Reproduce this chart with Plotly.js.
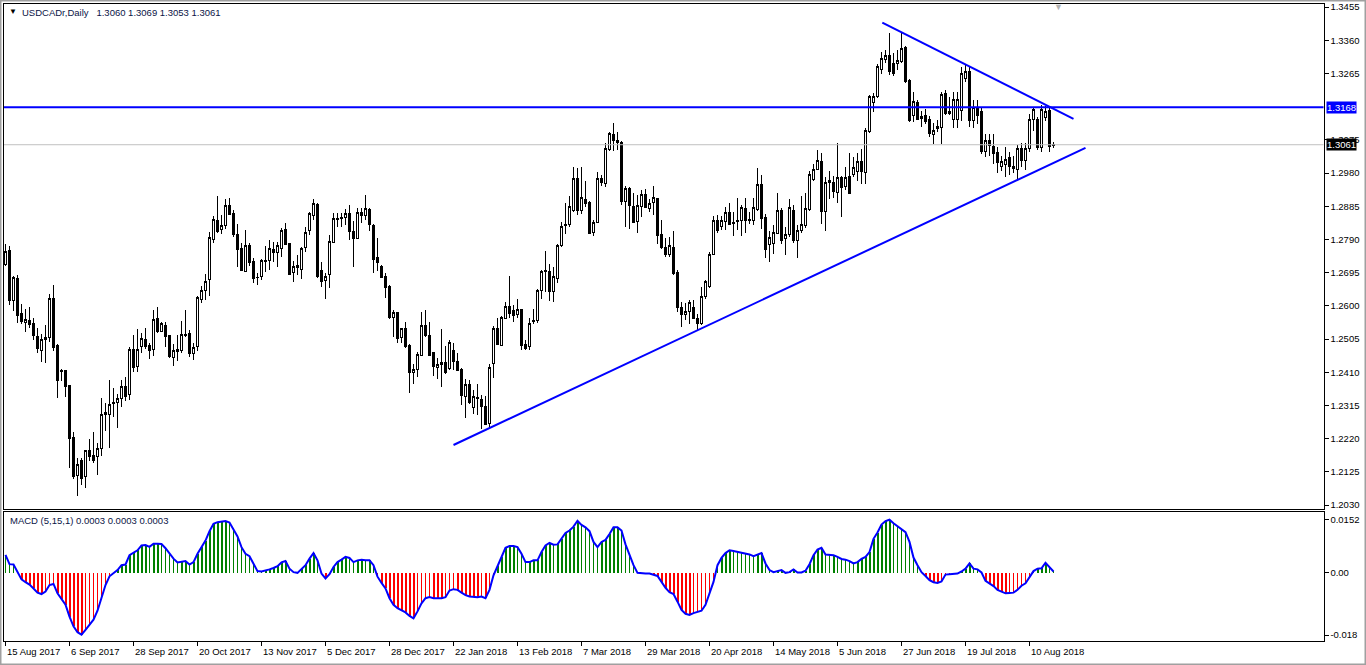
<!DOCTYPE html>
<html><head><meta charset="utf-8">
<script src="https://cdn.plot.ly/plotly-3.0.1.min.js"></script>
<style>html,body{margin:0;padding:0;background:#fff;overflow:hidden}#chart{width:1366px;height:665px}
.barlayer path,.boxlayer path{shape-rendering:crispEdges}</style>
</head><body><div id="chart"></div>
<script>
// ---- data (USDCADr, Daily) ----
const opens = [1.2717,1.2757,1.2616,1.2677,1.2577,1.2553,1.2559,1.2550,1.2512,1.2472,1.2504,1.2509,1.2620,1.2486,1.2416,1.2414,1.2373,1.2224,1.2114,1.2159,1.2111,1.2185,1.2173,1.2168,1.2192,1.2290,1.2290,1.2324,1.2324,1.2335,1.2369,1.2347,1.2476,1.2426,1.2483,1.2505,1.2486,1.2474,1.2564,1.2528,1.2545,1.2514,1.2453,1.2470,1.2472,1.2519,1.2521,1.2464,1.2483,1.2618,1.2645,1.2674,1.2790,1.2843,1.2819,1.2831,1.2886,1.2863,1.2805,1.2763,1.2699,1.2774,1.2728,1.2681,1.2683,1.2727,1.2729,1.2760,1.2753,1.2764,1.2819,1.2779,1.2696,1.2710,1.2704,1.2766,1.2817,1.2858,1.2891,1.2700,1.2672,1.2690,1.2782,1.2850,1.2850,1.2853,1.2865,1.2814,1.2793,1.2867,1.2858,1.2877,1.2831,1.2739,1.2714,1.2685,1.2655,1.2567,1.2581,1.2509,1.2535,1.2488,1.2409,1.2418,1.2459,1.2545,1.2516,1.2467,1.2424,1.2432,1.2438,1.2421,1.2473,1.2442,1.2419,1.2340,1.2376,1.2308,1.2339,1.2333,1.2313,1.2264,1.2435,1.2534,1.2488,1.2564,1.2599,1.2588,1.2574,1.2590,1.2490,1.2485,1.2554,1.2557,1.2645,1.2697,1.2699,1.2640,1.2678,1.2774,1.2834,1.2834,1.2872,1.2963,1.2874,1.2904,1.2896,1.2810,1.2839,1.2963,1.2950,1.3047,1.3091,1.3074,1.3067,1.2898,1.2936,1.2885,1.2842,1.2883,1.2919,1.2879,1.2895,1.2907,1.2804,1.2766,1.2747,1.2766,1.2695,1.2595,1.2576,1.2583,1.2594,1.2564,1.2549,1.2628,1.2655,1.2748,1.2845,1.2828,1.2842,1.2867,1.2838,1.2842,1.2845,1.2879,1.2843,1.2845,1.2876,1.2948,1.2853,1.2776,1.2778,1.2807,1.2872,1.2793,1.2805,1.2874,1.2786,1.2817,1.2829,1.2876,1.2962,1.2990,1.3014,1.2869,1.2953,1.2952,1.2924,1.2966,1.2941,1.2971,1.2976,1.2984,1.3014,1.2982,1.3098,1.3181,1.3198,1.3277,1.3305,1.3315,1.3294,1.3292,1.3299,1.3340,1.3246,1.3146,1.3182,1.3141,1.3144,1.3132,1.3089,1.3106,1.3111,1.3208,1.3155,1.3133,1.3133,1.3158,1.3250,1.3270,1.3130,1.3168,1.3155,1.3043,1.3074,1.3057,1.3038,1.3000,1.3005,1.3025,1.2993,1.2991,1.3050,1.3017,1.3050,1.3132,1.3132,1.3053,1.3139,1.3158,1.3060];
const highs = [1.2777,1.2771,1.2685,1.2688,1.2605,1.2591,1.2596,1.2566,1.2536,1.2519,1.2545,1.2634,1.2660,1.2491,1.2419,1.2416,1.2375,1.2240,1.2164,1.2165,1.2187,1.2218,1.2240,1.2207,1.2337,1.2321,1.2388,1.2364,1.2348,1.2388,1.2397,1.2483,1.2516,1.2533,1.2521,1.2536,1.2495,1.2588,1.2596,1.2555,1.2555,1.2518,1.2490,1.2516,1.2556,1.2588,1.2531,1.2493,1.2628,1.2657,1.2690,1.2812,1.2857,1.2914,1.2860,1.2905,1.2908,1.2874,1.2833,1.2779,1.2817,1.2779,1.2736,1.2693,1.2733,1.2771,1.2788,1.2782,1.2784,1.2822,1.2836,1.2781,1.2729,1.2745,1.2769,1.2826,1.2869,1.2905,1.2895,1.2726,1.2693,1.2803,1.2865,1.2867,1.2865,1.2876,1.2888,1.2843,1.2879,1.2879,1.2917,1.2879,1.2834,1.2793,1.2717,1.2693,1.2660,1.2588,1.2583,1.2537,1.2553,1.2490,1.2435,1.2469,1.2583,1.2588,1.2555,1.2469,1.2450,1.2534,1.2485,1.2502,1.2494,1.2464,1.2423,1.2390,1.2388,1.2359,1.2376,1.2345,1.2342,1.2433,1.2542,1.2566,1.2571,1.2612,1.2685,1.2602,1.2621,1.2592,1.2502,1.2564,1.2590,1.2648,1.2704,1.2756,1.2721,1.2712,1.2777,1.2840,1.2893,1.2914,1.2998,1.2993,1.2996,1.2958,1.2901,1.2845,1.2984,1.2974,1.3065,1.3098,1.3122,1.3098,1.3072,1.2942,1.2939,1.2922,1.2917,1.2931,1.2933,1.2907,1.2942,1.2909,1.2845,1.2793,1.2797,1.2815,1.2702,1.2612,1.2609,1.2616,1.2616,1.2576,1.2654,1.2675,1.2755,1.2857,1.2860,1.2857,1.2883,1.2895,1.2869,1.2910,1.2888,1.2910,1.2869,1.2910,1.2993,1.2974,1.2862,1.2815,1.2831,1.2922,1.2881,1.2826,1.2907,1.2888,1.2831,1.2914,1.2922,1.2985,1.3007,1.3046,1.3038,1.2969,1.2986,1.2971,1.3065,1.2971,1.2998,1.3038,1.3026,1.3038,1.3050,1.3108,1.3203,1.3210,1.3292,1.3327,1.3332,1.3382,1.3322,1.3332,1.3380,1.3343,1.3248,1.3213,1.3189,1.3158,1.3162,1.3144,1.3122,1.3132,1.3213,1.3217,1.3198,1.3213,1.3213,1.3284,1.3290,1.3284,1.3190,1.3190,1.3165,1.3093,1.3093,1.3093,1.3055,1.3030,1.3055,1.3040,1.3030,1.3060,1.3065,1.3065,1.3150,1.3165,1.3140,1.3175,1.3172,1.3165,1.3069];
const lows = [1.2714,1.2602,1.2585,1.2550,1.2548,1.2524,1.2538,1.2502,1.2464,1.2440,1.2437,1.2497,1.2472,1.2337,1.2385,1.2340,1.2135,1.2106,1.2057,1.2087,1.2080,1.2156,1.2149,1.2116,1.2170,1.2242,1.2194,1.2283,1.2251,1.2310,1.2329,1.2331,1.2412,1.2412,1.2464,1.2478,1.2447,1.2456,1.2523,1.2526,1.2481,1.2450,1.2429,1.2443,1.2466,1.2512,1.2454,1.2445,1.2472,1.2609,1.2618,1.2629,1.2779,1.2809,1.2807,1.2819,1.2860,1.2798,1.2712,1.2701,1.2698,1.2715,1.2664,1.2660,1.2674,1.2698,1.2704,1.2726,1.2710,1.2741,1.2773,1.2689,1.2669,1.2688,1.2676,1.2755,1.2803,1.2847,1.2680,1.2653,1.2621,1.2650,1.2781,1.2826,1.2826,1.2831,1.2788,1.2710,1.2790,1.2838,1.2847,1.2815,1.2695,1.2701,1.2679,1.2623,1.2562,1.2512,1.2494,1.2495,1.2480,1.2351,1.2376,1.2397,1.2459,1.2512,1.2459,1.2400,1.2392,1.2369,1.2404,1.2416,1.2416,1.2413,1.2316,1.2278,1.2319,1.2292,1.2287,1.2249,1.2259,1.2249,1.2395,1.2488,1.2486,1.2561,1.2564,1.2555,1.2564,1.2475,1.2475,1.2475,1.2549,1.2551,1.2621,1.2640,1.2614,1.2611,1.2664,1.2769,1.2805,1.2826,1.2869,1.2860,1.2864,1.2883,1.2805,1.2800,1.2836,1.2942,1.2941,1.3043,1.3044,1.3047,1.2888,1.2826,1.2821,1.2836,1.2809,1.2855,1.2879,1.2869,1.2860,1.2778,1.2764,1.2740,1.2740,1.2688,1.2583,1.2540,1.2559,1.2549,1.2561,1.2530,1.2545,1.2621,1.2650,1.2745,1.2809,1.2818,1.2817,1.2831,1.2800,1.2817,1.2800,1.2809,1.2834,1.2831,1.2872,1.2821,1.2738,1.2726,1.2747,1.2805,1.2778,1.2745,1.2797,1.2780,1.2738,1.2809,1.2824,1.2872,1.2958,1.2988,1.2834,1.2815,1.2907,1.2910,1.2895,1.2855,1.2931,1.2919,1.2969,1.2958,1.2950,1.2948,1.3095,1.3155,1.3196,1.3263,1.3294,1.3260,1.3257,1.3275,1.3294,1.3238,1.3127,1.3127,1.3131,1.3111,1.3120,1.3084,1.3063,1.3098,1.3063,1.3146,1.3146,1.3108,1.3108,1.3130,1.3240,1.3111,1.3110,1.3120,1.3035,1.3025,1.3030,1.3007,1.2980,1.2985,1.2970,1.2975,1.2980,1.2960,1.2998,1.2990,1.3040,1.3100,1.3045,1.3040,1.3130,1.3040,1.3053];
const closes = [1.2755,1.2614,1.2681,1.2572,1.2555,1.2562,1.2548,1.2514,1.2478,1.2505,1.2510,1.2620,1.2480,1.2386,1.2412,1.2369,1.2221,1.2111,1.2147,1.2106,1.2186,1.2168,1.2159,1.2192,1.2290,1.2294,1.2319,1.2320,1.2335,1.2369,1.2340,1.2474,1.2424,1.2476,1.2507,1.2483,1.2472,1.2562,1.2526,1.2550,1.2512,1.2455,1.2471,1.2474,1.2519,1.2515,1.2464,1.2481,1.2624,1.2645,1.2671,1.2796,1.2846,1.2812,1.2831,1.2886,1.2862,1.2805,1.2760,1.2701,1.2774,1.2724,1.2679,1.2680,1.2731,1.2731,1.2763,1.2753,1.2774,1.2817,1.2776,1.2691,1.2714,1.2716,1.2764,1.2810,1.2863,1.2893,1.2683,1.2671,1.2683,1.2785,1.2850,1.2847,1.2854,1.2863,1.2812,1.2793,1.2867,1.2858,1.2879,1.2833,1.2734,1.2723,1.2681,1.2652,1.2566,1.2581,1.2507,1.2534,1.2483,1.2409,1.2419,1.2462,1.2545,1.2515,1.2459,1.2426,1.2433,1.2438,1.2410,1.2495,1.2440,1.2416,1.2343,1.2376,1.2323,1.2340,1.2335,1.2311,1.2261,1.2424,1.2535,1.2490,1.2566,1.2597,1.2578,1.2572,1.2590,1.2487,1.2478,1.2549,1.2559,1.2645,1.2699,1.2702,1.2640,1.2683,1.2774,1.2828,1.2831,1.2883,1.2963,1.2872,1.2910,1.2893,1.2807,1.2839,1.2963,1.2953,1.3050,1.3093,1.3072,1.3067,1.2898,1.2936,1.2888,1.2838,1.2888,1.2919,1.2881,1.2893,1.2910,1.2800,1.2767,1.2747,1.2772,1.2693,1.2595,1.2576,1.2585,1.2610,1.2564,1.2549,1.2626,1.2671,1.2748,1.2845,1.2817,1.2845,1.2867,1.2833,1.2836,1.2845,1.2881,1.2843,1.2847,1.2880,1.2948,1.2850,1.2761,1.2796,1.2810,1.2874,1.2786,1.2805,1.2881,1.2786,1.2817,1.2834,1.2879,1.2977,1.2990,1.3017,1.2869,1.2953,1.2960,1.2926,1.2966,1.2939,1.2967,1.2922,1.2996,1.3012,1.2984,1.3103,1.3198,1.3200,1.3284,1.3308,1.3315,1.3270,1.3265,1.3303,1.3337,1.3243,1.3130,1.3184,1.3133,1.3136,1.3127,1.3094,1.3103,1.3113,1.3206,1.3151,1.3151,1.3189,1.3189,1.3265,1.3270,1.3130,1.3168,1.3146,1.3041,1.3074,1.3060,1.3035,1.3010,1.3012,1.3020,1.2998,1.3000,1.3050,1.3017,1.3050,1.3134,1.3162,1.3053,1.3162,1.3155,1.3057,1.3061];
const macd = [0.0051,0.0024,0.0023,0.0002,-0.0020,-0.0028,-0.0035,-0.0046,-0.0058,-0.0062,-0.0055,-0.0036,-0.0033,-0.0060,-0.0077,-0.0093,-0.0127,-0.0155,-0.0172,-0.0179,-0.0165,-0.0150,-0.0136,-0.0110,-0.0074,-0.0036,-0.0011,-0.0001,0.0007,0.0021,0.0023,0.0050,0.0057,0.0064,0.0078,0.0079,0.0074,0.0083,0.0083,0.0082,0.0070,0.0054,0.0040,0.0029,0.0030,0.0033,0.0023,0.0030,0.0054,0.0073,0.0092,0.0119,0.0140,0.0145,0.0147,0.0148,0.0144,0.0126,0.0104,0.0073,0.0054,0.0047,0.0023,0.0004,0.0003,0.0005,0.0009,0.0013,0.0018,0.0029,0.0033,0.0011,0.0001,-0.0001,0.0009,0.0021,0.0040,0.0056,0.0035,-0.0003,-0.0017,-0.0005,0.0016,0.0030,0.0037,0.0045,0.0042,0.0030,0.0035,0.0037,0.0035,0.0035,0.0021,-0.0012,-0.0030,-0.0046,-0.0074,-0.0093,-0.0103,-0.0109,-0.0115,-0.0125,-0.0132,-0.0112,-0.0089,-0.0074,-0.0071,-0.0074,-0.0074,-0.0074,-0.0071,-0.0052,-0.0048,-0.0050,-0.0058,-0.0065,-0.0069,-0.0071,-0.0071,-0.0069,-0.0074,-0.0050,-0.0008,0.0018,0.0045,0.0071,0.0076,0.0076,0.0073,0.0054,0.0030,0.0030,0.0035,0.0035,0.0059,0.0078,0.0085,0.0080,0.0081,0.0097,0.0114,0.0121,0.0132,0.0149,0.0137,0.0130,0.0119,0.0088,0.0073,0.0088,0.0094,0.0111,0.0130,0.0130,0.0121,0.0081,0.0050,0.0021,-0.0001,-0.0003,-0.0003,-0.0003,-0.0006,-0.0010,-0.0027,-0.0044,-0.0057,-0.0062,-0.0084,-0.0108,-0.0119,-0.0122,-0.0117,-0.0113,-0.0110,-0.0093,-0.0062,-0.0027,0.0021,0.0042,0.0056,0.0064,0.0062,0.0060,0.0058,0.0056,0.0052,0.0047,0.0052,0.0056,0.0026,0.0007,0.0001,0.0003,0.0007,-0.0001,0.0001,0.0009,0.0000,0.0000,0.0005,0.0024,0.0050,0.0066,0.0071,0.0052,0.0050,0.0050,0.0045,0.0039,0.0037,0.0033,0.0026,0.0030,0.0039,0.0045,0.0059,0.0097,0.0115,0.0138,0.0148,0.0152,0.0142,0.0134,0.0126,0.0116,0.0088,0.0043,0.0021,0.0001,-0.0010,-0.0022,-0.0028,-0.0030,-0.0026,-0.0006,-0.0005,-0.0005,-0.0003,0.0003,0.0011,0.0026,0.0011,0.0009,0.0000,-0.0024,-0.0031,-0.0039,-0.0050,-0.0056,-0.0060,-0.0059,-0.0058,-0.0050,-0.0038,-0.0031,-0.0012,0.0004,0.0011,0.0012,0.0028,0.0014,0.0003];
const dateLabels = ["15 Aug 2017","6 Sep 2017","28 Sep 2017","20 Oct 2017","13 Nov 2017","5 Dec 2017","28 Dec 2017","22 Jan 2018","13 Feb 2018","7 Mar 2018","29 Mar 2018","20 Apr 2018","14 May 2018","5 Jun 2018","27 Jun 2018","19 Jul 2018","10 Aug 2018"];
const dateLabelIdx = [0,16,32,48,64,80,96,112,128,144,160,176,192,208,224,240,256];
const priceTicks = [1.3455,1.3360,1.3265,1.3075,1.2980,1.2885,1.2790,1.2695,1.2600,1.2505,1.2410,1.2315,1.2220,1.2125,1.2030];
const macdTicks = [0.0152,0,-0.018];
const macdTickText = ["0.0152","0.00","-0.018"];
const hLevel = 1.3168;
const bidPrice = 1.3061;
const supportIdx = [112,270];
const supportPrice = [1.2202,1.3052];
const resistIdx = [219.2,267];
const resistPrice = [1.3410,1.3135];
const header = "USDCADr,Daily\u00a0\u00a0 1.3060 1.3069 1.3053 1.3061";
const macdHeader = "MACD (5,15,1) 0.0003 0.0003 0.0003";

// ---- drawing ----
const W = 1366, H = 665;
const px = v => v / W, py = v => 1 - v / H;
const idx = opens.map((_, i) => i);
const FONT = 'Liberation Sans, Arial, sans-serif';
const barColors = macd.map(v => v >= 0 ? '#008000' : '#ff0000');
const barWidths = macd.map((v, i) => (i > 0 && Math.abs(v) >= Math.abs(macd[i - 1])) ? 0.5 : 0.25);

const traces = [
  {type: 'candlestick', x: idx, open: opens, high: highs, low: lows, close: closes,
   xaxis: 'x', yaxis: 'y', whiskerwidth: 0, hoverinfo: 'skip',
   increasing: {line: {color: '#000', width: 1}, fillcolor: '#ffffff'},
   decreasing: {line: {color: '#000', width: 1}, fillcolor: '#000000'}},
  {type: 'scatter', mode: 'lines', x: supportIdx, y: supportPrice, xaxis: 'x', yaxis: 'y',
   line: {color: '#0000ff', width: 2}, hoverinfo: 'skip'},
  {type: 'scatter', mode: 'lines', x: resistIdx, y: resistPrice, xaxis: 'x', yaxis: 'y',
   line: {color: '#0000ff', width: 2}, hoverinfo: 'skip'},
  {type: 'bar', x: idx, y: macd, width: barWidths, marker: {color: barColors, line: {width: 0}},
   xaxis: 'x2', yaxis: 'y2', hoverinfo: 'skip'},
  {type: 'scatter', mode: 'lines', x: idx, y: macd, xaxis: 'x2', yaxis: 'y2',
   line: {color: '#0000ff', width: 2}, hoverinfo: 'skip'}
];

const xDomain = [px(4), px(1323.5)];
const xRange = [-0.375, 329.5];
const axisBase = {showline: true, mirror: true, linecolor: '#000', linewidth: 1, showgrid: false, zeroline: false, fixedrange: true};

const annotations = [
  {text: '\u25BC', xref: 'paper', yref: 'paper', x: px(12.5), y: py(12), xanchor: 'center', yanchor: 'middle', showarrow: false, font: {family: FONT, size: 8, color: '#000'}},
  {text: header, xref: 'paper', yref: 'paper', x: px(20), y: py(12.5), xanchor: 'left', yanchor: 'middle', showarrow: false, font: {family: FONT, size: 9.5, color: '#0a1446'}},
  {text: macdHeader, xref: 'paper', yref: 'paper', x: px(8), y: py(520.5), xanchor: 'left', yanchor: 'middle', showarrow: false, font: {family: FONT, size: 9.5, color: '#0a1446'}},
  {text: '\u25BC', xref: 'paper', yref: 'paper', x: px(1058.5), y: py(7), xanchor: 'center', yanchor: 'middle', showarrow: false, font: {family: FONT, size: 9, color: '#b4b4b4'}},
  {text: hLevel.toFixed(4), xref: 'paper', yref: 'y', x: px(1326), y: hLevel, xanchor: 'left', yanchor: 'middle', showarrow: false, bgcolor: '#0000ff', borderpad: 0, font: {family: FONT, size: 9.5, color: '#ffffff'}},
  {text: bidPrice.toFixed(4), xref: 'paper', yref: 'y', x: px(1326), y: bidPrice, xanchor: 'left', yanchor: 'middle', showarrow: false, bgcolor: '#000000', borderpad: 0, font: {family: FONT, size: 9.5, color: '#ffffff'}}
];
dateLabels.forEach((t, k) => annotations.push({
  text: t, xref: 'x2', yref: 'paper', x: dateLabelIdx[k], y: py(651.5), xanchor: 'left', yanchor: 'middle',
  xshift: -1, showarrow: false, font: {family: FONT, size: 9.5, color: '#000'}
}));

const layout = {
  width: W, height: H, autosize: false, margin: {l: 0, r: 0, t: 0, b: 0, pad: 0},
  paper_bgcolor: '#ffffff', plot_bgcolor: '#ffffff', showlegend: false, hovermode: false,
  xaxis: Object.assign({}, axisBase, {domain: xDomain, range: xRange, anchor: 'y', showticklabels: false, ticks: '', rangeslider: {visible: false}}),
  yaxis: Object.assign({}, axisBase, {domain: [py(509), py(4)], range: [1.20188, 1.34636], anchor: 'x', side: 'right',
    ticks: 'outside', ticklen: 4, tickcolor: '#000', tickvals: priceTicks, ticktext: priceTicks.map(v => v.toFixed(4)),
    tickfont: {family: FONT, size: 9.5, color: '#000'}}),
  xaxis2: Object.assign({}, axisBase, {domain: xDomain, range: xRange, anchor: 'y2', showticklabels: false,
    ticks: 'outside', ticklen: 4, tickcolor: '#000', tickvals: dateLabelIdx, rangeslider: {visible: false}}),
  yaxis2: Object.assign({}, axisBase, {domain: [py(641), py(512)], range: [-0.019728, 0.017424], anchor: 'x2', side: 'right',
    ticks: 'outside', ticklen: 4, tickcolor: '#000', tickvals: macdTicks, ticktext: macdTickText,
    tickfont: {family: FONT, size: 9.5, color: '#000'}}),
  shapes: [
    {type: 'line', xref: 'x domain', yref: 'y', x0: 0, x1: 1, y0: bidPrice, y1: bidPrice, line: {color: '#c0c0c0', width: 1}},
    {type: 'line', xref: 'x domain', yref: 'y', x0: 0, x1: 1, y0: hLevel, y1: hLevel, line: {color: '#0000ff', width: 2}},
    {type: 'rect', xref: 'paper', yref: 'paper', x0: 0, x1: 1, y0: 0, y1: 1, line: {color: '#a0a0a0', width: 3}, layer: 'above'}
  ],
  annotations: annotations
};

Plotly.newPlot('chart', traces, layout, {staticPlot: true, displayModeBar: false});
</script>
</body></html>
